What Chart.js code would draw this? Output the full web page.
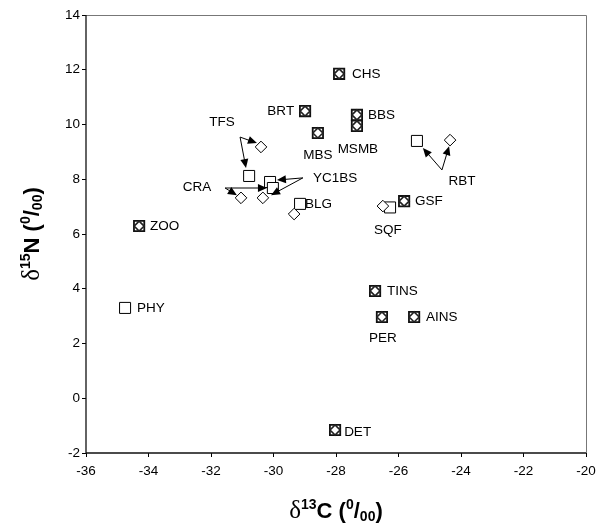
<!DOCTYPE html>
<html>
<head>
<meta charset="utf-8">
<script src="https://cdn.jsdelivr.net/npm/chart.js@4"></script>
<style>
  html, body { margin: 0; padding: 0; background: #fff; }
  #wrap { width: 609px; height: 527px; }
</style>
</head>
<body>
<div id="wrap"><canvas id="chart" width="609" height="527"></canvas></div>
<script>
// x = d13C, y = d15N
var overlayNames = ["CHS", "BRT", "BBS", "MSMB", "MBS", "GSF", "ZOO", "TINS", "PER", "AINS", "DET"];
var overlayC = [-27.9, -28.99, -27.33, -27.33, -28.58, -25.82, -34.3, -26.75, -26.53, -25.5, -28.03];
var overlayN = [11.85, 10.49, 10.35, 9.95, 9.69, 7.2, 6.29, 3.92, 2.97, 2.97, -1.16];

var squareNames = ["TFS", "YC1BS", "YC1BS", "BLG", "PHY", "RBT", "SQF"];
var squareC = [-30.78, -30.11, -30.02, -29.15, -34.75, -25.41, -26.27];
var squareN = [8.12, 7.9, 7.68, 7.1, 3.3, 9.4, 6.97];

var diamondNames = ["TFS", "CRA", "YC1BS", "BLG", "RBT", "SQF"];
var diamondC = [-30.4, -31.04, -30.34, -29.34, -24.35, -26.5];
var diamondN = [9.18, 7.32, 7.32, 6.73, 9.43, 7.02];

var xTicks = [-36, -34, -32, -30, -28, -26, -24, -22, -20];
var yTicks = [-2, 0, 2, 4, 6, 8, 10, 12, 14];

// label anchors, in data units
var labels = [
  { t: "CHS", x: -27.49, y: 11.84, a: "left" },
  { t: "BRT", x: -29.34, y: 10.49, a: "right" },
  { t: "BBS", x: -26.98, y: 10.35, a: "left" },
  { t: "MSMB", x: -27.3, y: 9.1, a: "center" },
  { t: "MBS", x: -28.58, y: 8.89, a: "center" },
  { t: "TFS", x: -31.65, y: 10.09, a: "center" },
  { t: "CRA", x: -32.45, y: 7.72, a: "center" },
  { t: "YC1BS", x: -28.74, y: 8.05, a: "left" },
  { t: "BLG", x: -28.99, y: 7.1, a: "left" },
  { t: "ZOO", x: -33.95, y: 6.29, a: "left" },
  { t: "PHY", x: -34.37, y: 3.3, a: "left" },
  { t: "RBT", x: -23.97, y: 7.94, a: "center" },
  { t: "GSF", x: -25.47, y: 7.2, a: "left" },
  { t: "SQF", x: -26.34, y: 6.15, a: "center" },
  { t: "TINS", x: -26.37, y: 3.92, a: "left" },
  { t: "AINS", x: -25.12, y: 2.97, a: "left" },
  { t: "PER", x: -26.5, y: 2.2, a: "center" },
  { t: "DET", x: -27.74, y: -1.23, a: "left" }
];

// arrows: [fromX, fromY, toX, toY]
var arrows = [
  [-31.07, 9.54, -30.53, 9.32],
  [-31.07, 9.54, -30.88, 8.41],
  [-31.55, 7.68, -31.17, 7.42],
  [-31.55, 7.68, -30.21, 7.68],
  [-29.06, 8.05, -29.89, 7.97],
  [-29.06, 8.05, -30.08, 7.42],
  [-24.61, 8.34, -25.22, 9.14],
  [-24.61, 8.34, -24.38, 9.21]
];

function pts(xs, ys) {
  return xs.map(function(v, i) { return { x: v, y: ys[i] }; });
}

var annotations = {
  id: "annotations",
  afterDatasetsDraw: function(chart) {
    var ctx = chart.ctx, sx = chart.scales.x, sy = chart.scales.y;
    ctx.save();
    ctx.strokeStyle = "#000";
    ctx.fillStyle = "#000";
    ctx.lineWidth = 1;
    arrows.forEach(function(a) {
      var x0 = sx.getPixelForValue(a[0]), y0 = sy.getPixelForValue(a[1]);
      var x1 = sx.getPixelForValue(a[2]), y1 = sy.getPixelForValue(a[3]);
      var ang = Math.atan2(y1 - y0, x1 - x0);
      var len = 9, w = 4;
      ctx.beginPath();
      ctx.moveTo(x0, y0);
      ctx.lineTo(x1 - Math.cos(ang) * len * 0.8, y1 - Math.sin(ang) * len * 0.8);
      ctx.stroke();
      ctx.beginPath();
      ctx.moveTo(x1, y1);
      ctx.lineTo(x1 - Math.cos(ang) * len - Math.sin(ang) * w, y1 - Math.sin(ang) * len + Math.cos(ang) * w);
      ctx.lineTo(x1 - Math.cos(ang) * len + Math.sin(ang) * w, y1 - Math.sin(ang) * len - Math.cos(ang) * w);
      ctx.closePath();
      ctx.fill();
    });
    ctx.font = "13.5px 'Liberation Sans', Arial, sans-serif";
    ctx.textBaseline = "middle";
    labels.forEach(function(l) {
      ctx.textAlign = l.a;
      ctx.fillText(l.t, sx.getPixelForValue(l.x), sy.getPixelForValue(l.y));
    });
    ctx.restore();
  }
};

var frame = {
  id: "frame",
  beforeDatasetsDraw: function(chart) {
    var ctx = chart.ctx, a = chart.chartArea;
    ctx.save();
    ctx.lineWidth = 1;
    ctx.strokeStyle = "#777";
    ctx.beginPath();
    ctx.moveTo(a.left, a.top + 0.5);
    ctx.lineTo(a.right + 0.5, a.top + 0.5);
    ctx.lineTo(a.right + 0.5, a.bottom);
    ctx.stroke();
    ctx.strokeStyle = "#111";
    ctx.lineWidth = 1.3;
    ctx.beginPath();
    ctx.moveTo(a.left, a.top);
    ctx.lineTo(a.left, a.bottom);
    ctx.lineTo(a.right, a.bottom);
    ctx.stroke();
    ctx.restore();
  }
};

// axis titles with super/subscripts
function richText(ctx, parts, cx, cy) {
  var total = 0;
  parts.forEach(function(p) { ctx.font = p.f; total += ctx.measureText(p.t).width; });
  var x = cx - total / 2;
  ctx.textAlign = "left";
  ctx.textBaseline = "alphabetic";
  parts.forEach(function(p) {
    ctx.font = p.f;
    ctx.fillText(p.t, x, cy + (p.dy || 0));
    x += ctx.measureText(p.t).width;
  });
}

function titleParts(sup, letter) {
  var big = "bold 22px 'Liberation Sans', Arial, sans-serif";
  var small = "bold 14px 'Liberation Sans', Arial, sans-serif";
  return [
    { t: "δ", f: "25px 'Liberation Serif', 'Times New Roman', serif" },
    { t: sup, f: small, dy: -9 },
    { t: letter + " (", f: big },
    { t: "0", f: small, dy: -9 },
    { t: "/", f: big },
    { t: "00", f: small, dy: 3 },
    { t: ")", f: big }
  ];
}

var axisTitles = {
  id: "axisTitles",
  afterDraw: function(chart) {
    var ctx = chart.ctx;
    ctx.save();
    ctx.fillStyle = "#000";
    richText(ctx, titleParts("13", "C"), 336, 518);
    ctx.translate(39, 234);
    ctx.rotate(-Math.PI / 2);
    richText(ctx, titleParts("15", "N"), 0, 0);
    ctx.restore();
  }
};

var tickFont = { family: "'Liberation Sans', Arial, sans-serif", size: 13.5 };

new Chart(document.getElementById("chart").getContext("2d"), {
  type: "scatter",
  data: {
    datasets: [
      {
        label: "squares",
        order: 4,
        data: pts(squareC, squareN),
        pointStyle: "rect",
        pointRadius: 7.8,
        pointBackgroundColor: "#fff",
        pointBorderColor: "#000",
        pointBorderWidth: 1
      },
      {
        label: "diamonds",
        order: 3,
        data: pts(diamondC, diamondN),
        pointStyle: "rectRot",
        pointRadius: 5.8,
        pointBackgroundColor: "#fff",
        pointBorderColor: "#000",
        pointBorderWidth: 1
      },
      {
        label: "both (square)",
        order: 2,
        data: pts(overlayC, overlayN),
        pointStyle: "rect",
        pointRadius: 7.3,
        pointBackgroundColor: "#fff",
        pointBorderColor: "#111",
        pointBorderWidth: 1.8
      },
      {
        label: "both (diamond)",
        order: 1,
        data: pts(overlayC, overlayN),
        pointStyle: "rectRot",
        pointRadius: 5,
        pointBackgroundColor: "#fff",
        pointBorderColor: "#222",
        pointBorderWidth: 1.6
      }
    ]
  },
  options: {
    responsive: false,
    animation: false,
    layout: { padding: { left: 0, top: 15, right: 23, bottom: 0 } },
    plugins: { legend: { display: false }, tooltip: { enabled: false } },
    scales: {
      x: {
        type: "linear",
        min: -36,
        max: -20,
        afterFit: function(s) { s.height = 74; },
        afterBuildTicks: function(s) { s.ticks = xTicks.map(function(v) { return { value: v }; }); },
        border: { display: false },
        grid: { display: true, drawOnChartArea: false, drawTicks: true, tickLength: 4, color: "#000" },
        ticks: { color: "#000", font: tickFont, padding: 6, maxRotation: 0 }
      },
      y: {
        type: "linear",
        min: -2,
        max: 14,
        afterFit: function(s) { s.width = 86; },
        afterBuildTicks: function(s) { s.ticks = yTicks.map(function(v) { return { value: v }; }); },
        border: { display: false },
        grid: { display: true, drawOnChartArea: false, drawTicks: true, tickLength: 4, color: "#000" },
        ticks: { color: "#000", font: tickFont, padding: 2 }
      }
    }
  },
  plugins: [frame, annotations, axisTitles]
});
</script>
</body>
</html>
